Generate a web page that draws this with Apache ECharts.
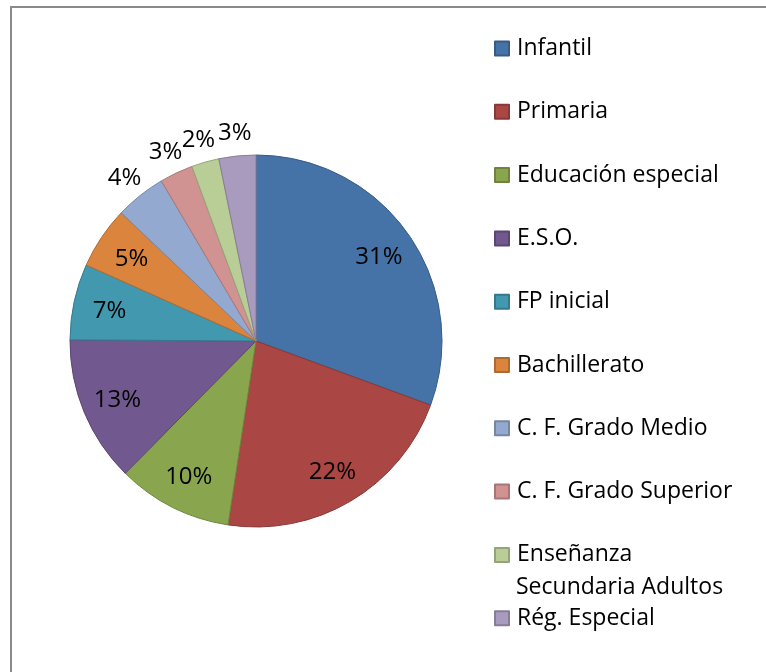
<!DOCTYPE html>
<html>
<head>
<meta charset="utf-8">
<script src="https://cdn.jsdelivr.net/npm/echarts@6/dist/echarts.min.js"></script>
<style>
  html, body { margin: 0; padding: 0; background: #fff; }
  #main { width: 766px; height: 672px; }
</style>
</head>
<body>
<div id="main"></div>
<script>
const categories = [
  "Infantil",
  "Primaria",
  "Educación especial",
  "E.S.O.",
  "FP inicial",
  "Bachillerato",
  "C. F. Grado Medio",
  "C. F. Grado Superior",
  "Enseñanza Secundaria Adultos",
  "Rég. Especial",
];
const values = [30.6, 21.8, 10.0, 12.7, 6.6, 5.4, 4.4, 2.9, 2.4, 3.2];
const colors = [
  "#4572A7", "#AA4643", "#89A54E", "#71588F", "#4198AF",
  "#DB843D", "#93A9CF", "#D19392", "#B9CD96", "#A99BBD",
];

// borde un poco mas oscuro que el relleno
function darken(hex, f) {
  const n = parseInt(hex.slice(1), 16);
  const r = Math.round(((n >> 16) & 255) * f);
  const g = Math.round(((n >> 8) & 255) * f);
  const b = Math.round((n & 255) * f);
  return "rgb(" + r + "," + g + "," + b + ")";
}

const total = values.reduce((a, b) => a + b, 0);
const pieRadius = 186;
const legendTop = 32;
const legendRow = 63.3;

var chart = echarts.init(document.getElementById("main"));
var option = {
  animation: false,
  graphic: [
    {
      type: "rect",
      shape: { x: 11, y: 7, width: 800, height: 700 },
      style: { fill: "none", stroke: "#8a8a8a", lineWidth: 2 },
      silent: true,
    },
    {
      // segunda linea de "Enseñanza Secundaria Adultos"
      type: "text",
      left: 516,
      top: legendTop + legendRow * 8 + 33,
      style: {
        text: "Secundaria Adultos",
        fontFamily: "Open Sans",
        fontSize: 23,
        lineHeight: 33,
        fill: "#000",
      },
      silent: true,
    },
  ],
  legend: {
    orient: "vertical",
    left: 494,
    top: legendTop,
    padding: 0,
    itemGap: legendRow - 33,
    itemWidth: 14,
    itemHeight: 14,
    icon: "rect",
    data: categories,
    formatter: function (name) {
      return name.replace(" Secundaria Adultos", "");
    },
    textStyle: {
      fontFamily: "Open Sans",
      fontSize: 23,
      color: "#000",
      lineHeight: 33,
      padding: [0, 0, 0, 3],
    },
  },
  series: [
    {
      type: "pie",
      center: [256, 341],
      radius: pieRadius,
      startAngle: 90,
      clockwise: true,
      percentPrecision: 0,
      data: categories.map((name, i) => ({
        name: name,
        value: values[i],
        itemStyle: {
          color: colors[i],
          borderColor: darken(colors[i], 0.8),
          borderWidth: 1,
        },
      })),
      label: {
        show: true,
        position: "inside",
        formatter: "{d}%",
        fontFamily: "Open Sans",
        fontSize: 24,
        color: "#000",
      },
      labelLine: { show: false },
      labelLayout: function (params) {
        const i = params.dataIndex;
        let before = 0;
        for (let k = 0; k < i; k++) before += values[k];
        const mid = ((before + values[i] / 2) / total) * Math.PI * 2;
        const share = (values[i] / total) * 100;
        // las porciones pequeñas llevan la etiqueta fuera
        const target = share < 5 ? pieRadius + 22 : pieRadius * 0.79;
        const d = target - pieRadius / 2;
        return { dx: d * Math.sin(mid), dy: -d * Math.cos(mid) + 2 };
      },
      emphasis: { disabled: true },
    },
  ],
};
chart.setOption(option);
</script>
</body>
</html>
